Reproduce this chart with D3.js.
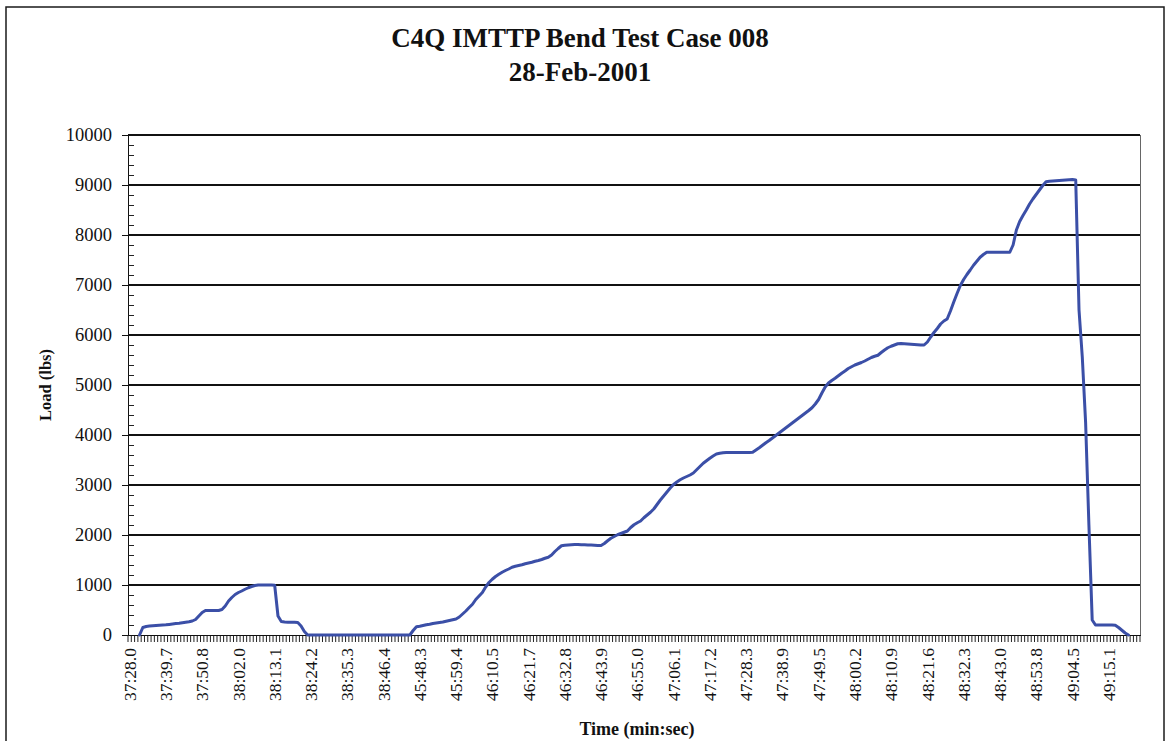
<!DOCTYPE html>
<html>
<head>
<meta charset="utf-8">
<script src="https://cdn.jsdelivr.net/npm/d3@7"></script>
<style>
  body { margin: 0; background: #fff; }
  svg text { font-family: "Liberation Serif", "Times New Roman", serif; fill: #111; }
</style>
</head>
<body>
<svg id="chart" width="1166" height="741"></svg>
<script>
// Time stamps shown on the category axis (one every `labelStep` samples)
const timeLabels = [
  "37:28.0", "37:39.7", "37:50.8", "38:02.0", "38:13.1", "38:24.2", "38:35.3",
  "38:46.4", "45:48.3", "45:59.4", "46:10.5", "46:21.7", "46:32.8", "46:43.9",
  "46:55.0", "47:06.1", "47:17.2", "47:28.3", "47:38.9", "47:49.5", "48:00.2",
  "48:10.9", "48:21.6", "48:32.3", "48:43.0", "48:53.8", "49:04.5", "49:15.1"
];
const labelStep = 11;
const categoryCount = 307;

// Load reading per sample (lbs); null = no reading
const loads = [
  null, null, null, 0, 150, 170, 178, 185, 190, 195,
  200, 205, 212, 220, 228, 235, 245, 255, 265, 280,
  310, 380, 450, 490, 490, 490, 490, 490, 510, 580,
  680, 750, 810, 850, 880, 915, 945, 970, 990, 1000,
  1000, 1000, 1000, 1000, 995, 380, 270, 260, 255, 255,
  255, 250, 180, 70, 0, 0, 0, 0, 0, 0,
  0, 0, 0, 0, 0, 0, 0, 0, 0, 0,
  0, 0, 0, 0, 0, 0, 0, 0, 0, 0,
  0, 0, 0, 0, 0, 0, 90, 165, 175, 190,
  205, 215, 230, 240, 250, 260, 275, 290, 305, 320,
  360, 420, 480, 550, 615, 710, 780, 850, 960, 1050,
  1115, 1170, 1215, 1255, 1290, 1320, 1355, 1375, 1390, 1405,
  1425, 1440, 1455, 1475, 1490, 1510, 1535, 1555, 1600, 1670,
  1730, 1785, 1795, 1800, 1805, 1810, 1810, 1805, 1805, 1800,
  1800, 1795, 1790, 1790, 1830, 1885, 1935, 1970, 2005, 2030,
  2055, 2080, 2150, 2205, 2245, 2280, 2345, 2400, 2455, 2520,
  2610, 2700, 2780, 2860, 2940, 3010, 3060, 3105, 3140, 3170,
  3200, 3240, 3305, 3370, 3435, 3485, 3535, 3580, 3620, 3635,
  3645, 3650, 3650, 3650, 3650, 3650, 3650, 3650, 3650, 3655,
  3700, 3745, 3795, 3845, 3890, 3940, 3990, 4040, 4090, 4140,
  4190, 4240, 4290, 4340, 4390, 4440, 4490, 4545, 4620, 4710,
  4840, 4960, 5040, 5090, 5135, 5185, 5235, 5280, 5330, 5365,
  5400, 5425, 5450, 5480, 5515, 5550, 5575, 5595, 5650, 5700,
  5745, 5775, 5800, 5825, 5830, 5825, 5820, 5815, 5810, 5805,
  5800, 5800, 5860, 5960, 6050, 6130, 6220, 6280, 6320, 6480,
  6660, 6830, 6990, 7110, 7210, 7300, 7395, 7475, 7555, 7610,
  7655, 7655, 7655, 7655, 7655, 7655, 7655, 7655, 7800, 8100,
  8270, 8390, 8500, 8620, 8720, 8810, 8900, 8990, 9065, 9075,
  9080, 9085, 9090, 9095, 9100, 9105, 9110, 9100, 6500, 5550,
  4250, 2200, 300, 200, 200, 200, 200, 200, 200, 195,
  150, 95, 40, 0, null, null, null
];

const yMajor = d3.range(0, 10001, 1000);
const yMinor = d3.range(0, 10001, 200).filter(v => v % 1000 !== 0);

const svg = d3.select("#chart");
const plot = { left: 128, right: 1140, top: 135, bottom: 635 };

const x = d3.scaleBand()
  .domain(d3.range(categoryCount))
  .range([plot.left, plot.right])
  .paddingInner(0).paddingOuter(0);

const y = d3.scaleLinear()
  .domain([0, 10000])
  .range([plot.bottom, plot.top]);

// outer chart frame
svg.append("rect")
  .attr("x", 6).attr("y", 7)
  .attr("width", 1158).attr("height", 780)
  .attr("fill", "#fff")
  .attr("stroke", "#1a1a1a").attr("stroke-width", 1.5);

// titles
svg.append("text")
  .attr("x", 580).attr("y", 47)
  .attr("text-anchor", "middle")
  .style("font-size", "27px").style("font-weight", "bold")
  .text("C4Q IMTTP Bend Test Case 008");
svg.append("text")
  .attr("x", 580).attr("y", 81)
  .attr("text-anchor", "middle")
  .style("font-size", "27px").style("font-weight", "bold")
  .text("28-Feb-2001");

// horizontal gridlines
svg.append("g")
  .attr("shape-rendering", "crispEdges")
  .selectAll("line")
  .data(yMajor.filter(v => v > 0))
  .join("line")
  .attr("x1", plot.left).attr("x2", plot.right)
  .attr("y1", d => y(d)).attr("y2", d => y(d))
  .attr("stroke", "#111").attr("stroke-width", 1.3);

// right border of the plot area
svg.append("line")
  .attr("shape-rendering", "crispEdges")
  .attr("x1", plot.right).attr("x2", plot.right)
  .attr("y1", plot.top).attr("y2", plot.bottom)
  .attr("stroke", "#666").attr("stroke-width", 1);

// y axis with outside major ticks
const yAxis = svg.append("g")
  .attr("transform", `translate(${plot.left},0)`)
  .attr("shape-rendering", "crispEdges")
  .call(d3.axisLeft(y).tickValues(yMajor).tickSize(6).tickPadding(10).tickFormat(d3.format("d")));
yAxis.select(".domain").attr("stroke", "#111").attr("stroke-width", 1.3);
yAxis.selectAll(".tick line").attr("stroke", "#111");
yAxis.selectAll(".tick text")
  .style("font-size", "18.5px")
  .style("font-family", "'Liberation Serif', 'Times New Roman', serif")
  .attr("fill", "#111");

// inside minor ticks on the y axis
svg.append("g")
  .attr("shape-rendering", "crispEdges")
  .selectAll("line")
  .data(yMinor)
  .join("line")
  .attr("x1", plot.left).attr("x2", plot.left + 6)
  .attr("y1", d => y(d)).attr("y2", d => y(d))
  .attr("stroke", "#222").attr("stroke-width", 1);

// dense tick marks between every sample on the category axis
const boundaries = x.domain().map(i => x(i)).concat([plot.right]);
svg.append("g")
  .selectAll("line")
  .data(boundaries)
  .join("line")
  .attr("x1", d => d).attr("x2", d => d)
  .attr("y1", plot.bottom).attr("y2", plot.bottom + 7)
  .attr("stroke", "#222").attr("stroke-width", 1);

// category axis labels
const labelIdx = timeLabels.map((_, k) => k * labelStep);
const xAxis = svg.append("g")
  .attr("transform", `translate(0,${plot.bottom})`)
  .call(d3.axisBottom(x).tickValues(labelIdx).tickSize(0)
    .tickFormat(i => timeLabels[i / labelStep]));
xAxis.select(".domain").attr("stroke", "#111").attr("stroke-width", 1.3)
  .attr("shape-rendering", "crispEdges");
xAxis.selectAll(".tick text")
  .attr("transform", "rotate(-90)")
  .attr("x", -13).attr("y", 0).attr("dy", "0.35em")
  .style("text-anchor", "end")
  .style("font-size", "17.5px")
  .style("font-family", "'Liberation Serif', 'Times New Roman', serif")
  .attr("fill", "#111");

// load trace
const line = d3.line()
  .defined(d => d != null)
  .x((d, i) => x(i) + x.bandwidth() / 2)
  .y(d => y(d));
svg.append("path")
  .datum(loads)
  .attr("d", line)
  .attr("fill", "none")
  .attr("stroke", "#3b4fa7")
  .attr("stroke-width", 3)
  .attr("stroke-linejoin", "round")
  .attr("stroke-linecap", "round");

// axis titles
svg.append("text")
  .attr("transform", "translate(51,385) rotate(-90)")
  .attr("text-anchor", "middle")
  .style("font-size", "16.5px").style("font-weight", "bold")
  .text("Load (lbs)");
svg.append("text")
  .attr("x", 637).attr("y", 735)
  .attr("text-anchor", "middle")
  .style("font-size", "18px").style("font-weight", "bold")
  .text("Time (min:sec)");
</script>
</body>
</html>
